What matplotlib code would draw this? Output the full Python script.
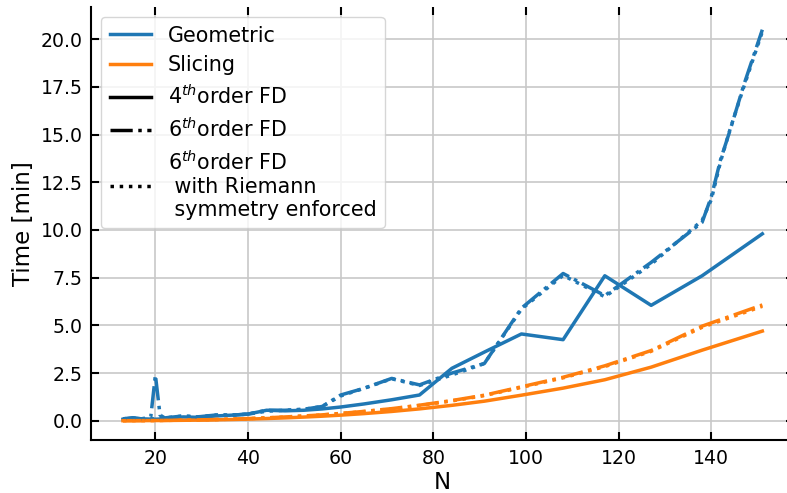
import matplotlib
matplotlib.use("Agg")
import matplotlib.pyplot as plt
from matplotlib.lines import Line2D

# ---- data ----
N = [13, 15, 17, 20, 22, 26, 29, 33, 37, 40, 44, 48, 52, 56, 60, 65, 71, 77,
     84, 91, 99, 108, 117, 127, 138, 151]

geo_fd4 = [0.08, 0.15, 0.10, 0.08, 0.10, 0.20, 0.18, 0.25, 0.30, 0.35, 0.55, 0.52,
           0.55, 0.62, 0.72, 0.88, 1.10, 1.35, 2.75, 3.60, 4.55, 4.25, 7.60, 6.05,
           7.60, 9.80]

N_geo6 = [13, 15, 17, 19, 20, 21, 22, 26, 29, 33, 37, 40, 44, 48, 52, 56, 60, 65,
          71, 77, 84, 91, 99, 108, 117, 127, 138, 140, 142, 144, 147, 151]
geo_fd6 = [0.10, 0.15, 0.10, 0.20, 2.40, 0.30, 0.15, 0.25, 0.20, 0.30, 0.30, 0.35,
           0.55, 0.55, 0.60, 0.75, 1.35, 1.70, 2.22, 1.88, 2.50, 3.00, 5.90, 7.72,
           6.56, 8.30, 10.40, 11.75, 13.70, 15.20, 17.60, 20.50]

N_geo6r = [13, 15, 17, 20, 22, 26, 29, 33, 37, 40, 44, 48, 52, 56, 60, 65, 71, 77,
           84, 91, 99, 108, 117, 127, 138, 140, 142, 144, 147, 151]
geo_fd6_riemann = [0.10, 0.15, 0.10, 0.10, 0.15, 0.25, 0.20, 0.30, 0.30, 0.35, 0.50,
                   0.55, 0.60, 0.75, 1.30, 1.70, 2.20, 1.85, 2.40, 3.00, 5.85, 7.62,
                   6.50, 8.20, 10.50, 11.60, 13.60, 15.25, 17.50, 20.40]

sl_fd4 = [0.003, 0.005, 0.007, 0.011, 0.015, 0.024, 0.033, 0.049, 0.069, 0.087,
          0.116, 0.151, 0.192, 0.239, 0.294, 0.374, 0.487, 0.622, 0.808, 1.026,
          1.340, 1.710, 2.150, 2.810, 3.700, 4.700]
sl_fd6 = [0.004, 0.006, 0.009, 0.015, 0.020, 0.031, 0.045, 0.065, 0.090, 0.115,
          0.152, 0.200, 0.250, 0.310, 0.385, 0.490, 0.635, 0.815, 1.060, 1.340,
          1.780, 2.280, 2.880, 3.680, 4.960, 6.070]
sl_fd6_riemann = [0.004, 0.006, 0.009, 0.014, 0.019, 0.030, 0.044, 0.063, 0.088,
                  0.112, 0.149, 0.196, 0.246, 0.305, 0.378, 0.482, 0.625, 0.800,
                  1.040, 1.320, 1.750, 2.250, 2.840, 3.640, 4.900, 6.000]

legend_labels = ["Geometric", "Slicing", "4$^{th}$order FD", "6$^{th}$order FD",
                 "6$^{th}$order FD\n with Riemann\n symmetry enforced"]
xlabel = "N"
ylabel = "Time [min]"

# ---- plot ----
BLUE = "#1f77b4"
ORANGE = "#ff7f0e"
LW = 2.5

fig = plt.figure(figsize=(7.87, 4.93), dpi=100)
ax = fig.add_axes([91 / 787, 52.6 / 493, 703.3 / 787, 433.4 / 493])

ax.plot(N, geo_fd4, color=BLUE, lw=LW, ls="-")
ax.plot(N, sl_fd4, color=ORANGE, lw=LW, ls="-")
ax.plot(N_geo6, geo_fd6, color=BLUE, lw=LW, ls="-.")
ax.plot(N, sl_fd6, color=ORANGE, lw=LW, ls="-.")
ax.plot(N_geo6r, geo_fd6_riemann, color=BLUE, lw=LW, ls=":")
ax.plot(N, sl_fd6_riemann, color=ORANGE, lw=LW, ls=":")

ax.set_xlim(6.1, 157.9)
ax.set_ylim(-1.03, 21.69)
ax.set_xticks([20, 40, 60, 80, 100, 120, 140])
yt = [0, 2.5, 5, 7.5, 10, 12.5, 15, 17.5, 20]
ax.set_yticks(yt)
ax.set_yticklabels([f"{v:.1f}" for v in yt])

ax.grid(True, color="#c8c8c8", lw=1.2)
ax.set_axisbelow(True)
ax.tick_params(direction="in", length=6, width=1.5, top=True, right=True,
               labelsize=13.6, pad=6)
for s in ["top", "right"]:
    ax.spines[s].set_visible(False)
for s in ["left", "bottom"]:
    ax.spines[s].set_linewidth(1.5)

ax.set_xlabel(xlabel, fontsize=16.5, labelpad=2)
ax.set_ylabel(ylabel, fontsize=16.5, labelpad=4)

handles = [
    Line2D([], [], color=BLUE, lw=LW),
    Line2D([], [], color=ORANGE, lw=LW),
    Line2D([], [], color="black", lw=LW, ls="-"),
    Line2D([], [], color="black", lw=LW, ls="-."),
    Line2D([], [], color="black", lw=LW, ls=":"),
]
ax.legend(handles, legend_labels, loc="upper left", fontsize=14.9,
          borderaxespad=0.5, labelspacing=0.45, handlelength=2.0)

fig.savefig("out.png", dpi=100)
